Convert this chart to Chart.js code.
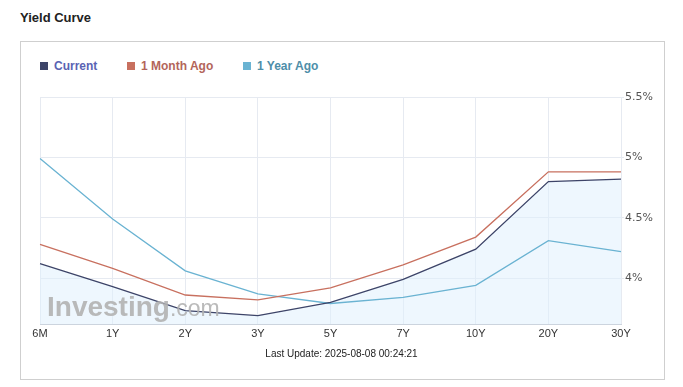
<!DOCTYPE html>
<html>
<head>
<meta charset="utf-8">
<script src="https://cdn.jsdelivr.net/npm/chart.js"></script>
<style>
  html, body { margin: 0; padding: 0; background: #fff; }
  body { width: 683px; height: 387px; position: relative; overflow: hidden; font-family: "Liberation Sans", Arial, sans-serif; }
  #title { position: absolute; left: 20px; top: 10px; font-size: 13px; font-weight: bold; color: #222; }
  #box { position: absolute; left: 20px; top: 41px; width: 643px; height: 337px; border: 1px solid #cfcfcf; }
  #legend { position: absolute; top: 59px; left: 40px; font-size: 12px; font-weight: bold; }
  .item { position: absolute; white-space: nowrap; top: 0; }
  .sw { display: inline-block; width: 8px; height: 8px; margin-right: 6px; vertical-align: 0px; }
  #update { position: absolute; top: 348px; left: 0; width: 683px; text-align: center; font-size: 10px; color: #222; }
  #wrap { position: absolute; left: 0; top: 0; width: 683px; height: 387px; }
</style>
</head>
<body>
<div id="title">Yield Curve</div>
<div id="box"></div>
<div id="legend"></div>
<div id="wrap"><canvas id="yield-curve-chart"></canvas></div>
<div id="update">Last Update: 2025-08-08 00:24:21</div>
<script>
const maturities = ['6M','1Y','2Y','3Y','5Y','7Y','10Y','20Y','30Y'];
const currentYields = [4.12, 3.93, 3.73, 3.69, 3.80, 3.99, 4.24, 4.80, 4.82];
const monthAgoYields = [4.28, 4.08, 3.86, 3.82, 3.92, 4.11, 4.34, 4.88, 4.88];
const yearAgoYields = [4.99, 4.49, 4.06, 3.87, 3.79, 3.84, 3.94, 4.31, 4.22];
const yTicks = [4, 4.5, 5, 5.5];

const series = [
  { name: 'Current', color: '#3d4468', text: '#5a63b3', left: 0 },
  { name: '1 Month Ago', color: '#c8705f', text: '#b3655a', left: 87 },
  { name: '1 Year Ago', color: '#6ab3d2', text: '#4e8ea9', left: 203 }
];

const legend = document.getElementById('legend');
series.forEach(s => {
  const el = document.createElement('div');
  el.className = 'item';
  el.style.left = s.left + 'px';
  el.style.color = s.text;
  el.innerHTML = '<span class="sw" style="background:' + s.color + '"></span>' + s.name;
  legend.appendChild(el);
});

// faint site watermark in the lower left of the plot
const watermark = {
  id: 'watermark',
  afterDatasetsDraw(chart) {
    const ctx = chart.ctx;
    ctx.save();
    ctx.globalAlpha = 0.9;
    ctx.fillStyle = '#b3b3b3';
    ctx.textBaseline = 'alphabetic';
    ctx.font = 'bold 28px "Liberation Sans", Arial, sans-serif';
    ctx.fillText('Investing', 47, 316);
    const w = ctx.measureText('Investing').width;
    ctx.font = '23px "Liberation Sans", Arial, sans-serif';
    ctx.fillText('.com', 47 + w, 316);
    ctx.restore();
  }
};

const ctx = document.getElementById('yield-curve-chart').getContext('2d');
const chart = new Chart(ctx, {
  type: 'line',
  data: {
    labels: maturities,
    datasets: [
      {
        label: 'Current',
        data: currentYields,
        borderColor: series[0].color,
        backgroundColor: 'rgba(222, 240, 253, 0.5)',
        fill: 'start',
        order: 0
      },
      {
        label: '1 Month Ago',
        data: monthAgoYields,
        borderColor: series[1].color,
        fill: false,
        order: 1
      },
      {
        label: '1 Year Ago',
        data: yearAgoYields,
        borderColor: series[2].color,
        fill: false,
        order: 2
      }
    ]
  },
  options: {
    responsive: true,
    maintainAspectRatio: false,
    animation: false,
    layout: { padding: { left: 40, top: 97, right: 22, bottom: 43 } },
    elements: {
      line: { borderWidth: 1.3, tension: 0 },
      point: { radius: 0, hoverRadius: 0 }
    },
    plugins: {
      legend: { display: false },
      tooltip: { enabled: false },
      filler: { drawTime: 'beforeDatasetsDraw' }
    },
    scales: {
      x: {
        offset: false,
        grid: { color: '#e6eaf1', drawTicks: false },
        border: { color: '#ccd4de' },
        ticks: {
          color: '#333',
          padding: 3,
          maxRotation: 0,
          autoSkip: false,
          font: { family: '"Liberation Sans", Arial, sans-serif', size: 11 }
        },
        afterFit(scale) { scale.height = 20; }
      },
      y: {
        position: 'right',
        min: 3.62,
        max: 5.5,
        grid: { color: '#e6eaf1', tickLength: 3 },
        border: { display: false },
        afterBuildTicks(scale) { scale.ticks = yTicks.map(v => ({ value: v })); },
        ticks: {
          color: '#555',
          padding: 1,
          font: { family: '"DejaVu Sans", Verdana, sans-serif', size: 11 },
          callback: v => v + '%'
        },
        afterFit(scale) { scale.width = 40; }
      }
    }
  },
  plugins: [watermark]
});
</script>
</body>
</html>
